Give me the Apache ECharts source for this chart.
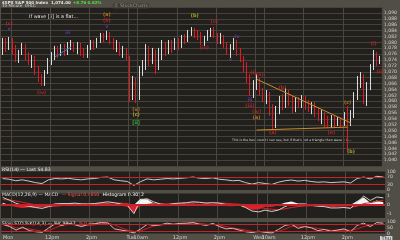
<!DOCTYPE html>
<html><head><meta charset="utf-8">
<script src="https://cdn.jsdelivr.net/npm/echarts@6/dist/echarts.min.js"></script>
<style>html,body{margin:0;padding:0;background:#514e46;}#c{width:400px;height:240px;}</style>
</head><body><div id="c"></div><script>
// ---- categories: 10-minute bars, three sessions ----
const sessionDays = ['Mon','Tue','Wed'];
const barsPerSession = 39;
const categories = [];
sessionDays.forEach(d => { for (let k = 0; k < barsPerSession; k++) { const m = 570 + 10 * k; categories.push(d + ' ' + Math.floor(m / 60) + ':' + String(m % 60).padStart(2, '0')); } });
const xLabelIdx  = [0, 15, 27, 39, 42, 54, 66, 78, 81, 93, 105];
const xLabelText = ['Mon','12pm','2pm','Tue','10am','12pm','2pm','Wed','10am','12pm','2pm'];
const vLineIdx   = [3, 15, 27, 39, 42, 54, 66, 78, 81, 93, 105];

// ---- price (OHLC) ----
const open = [1077.4,1080.1,1078.1,1080.8,1077.4,1074.7,1076.7,1079.1,1075.7,1073.3,1074.7,1070.6,1067.9,1065.8,1069.9,1073.3,1075.4,1077.4,1076.0,1078.4,1076.7,1078.8,1079.4,1077.4,1079.1,1076.7,1075.7,1078.1,1079.4,1078.8,1080.8,1082.2,1081.5,1083.2,1080.8,1078.8,1079.4,1076.7,1077.4,
1074.7,1061.1,1067.2,1061.1,1069.9,1072.0,1077.4,1074.7,1076.0,1072.0,1076.7,1078.8,1077.4,1079.4,1078.1,1080.1,1078.8,1081.5,1080.8,1082.8,1084.2,1082.8,1082.2,1080.1,1081.5,1082.8,1083.9,1082.2,1080.8,1082.2,1079.4,1077.4,1078.8,1080.1,1076.7,1074.7,1072.0,1067.9,1063.8,
1065.8,1067.2,1063.1,1061.1,1062.4,1057.0,1052.2,1057.0,1060.4,1058.4,1063.1,1060.4,1057.7,1060.4,1059.0,1061.1,1059.0,1057.7,1059.0,1056.3,1055.0,1055.6,1053.6,1052.9,1054.3,1052.2,1053.6,1052.9,1055.0,1052.9,1055.6,1061.8,1067.2,1068.6,1061.8,1065.2,1071.3,1075.4,1073.3];
const close = [1080.1,1078.1,1080.8,1077.4,1074.7,1076.7,1079.1,1075.7,1073.3,1074.7,1070.6,1067.9,1065.8,1069.9,1073.3,1075.4,1077.4,1076.0,1078.4,1076.7,1078.8,1079.4,1077.4,1079.1,1076.7,1075.7,1078.1,1079.4,1078.8,1080.8,1082.2,1081.5,1083.2,1080.8,1078.8,1079.4,1076.7,1077.4,1075.4,
1061.1,1067.2,1061.1,1069.9,1072.0,1077.4,1074.7,1076.0,1072.0,1076.7,1078.8,1077.4,1079.4,1078.1,1080.1,1078.8,1081.5,1080.8,1082.8,1084.2,1082.8,1082.2,1080.1,1081.5,1082.8,1083.9,1082.2,1080.8,1082.2,1079.4,1077.4,1078.8,1080.1,1076.7,1074.7,1072.0,1067.9,1063.8,1065.8,
1067.2,1063.1,1061.1,1062.4,1057.0,1052.2,1057.0,1060.4,1058.4,1063.1,1060.4,1057.7,1060.4,1059.0,1061.1,1059.0,1057.7,1059.0,1056.3,1055.0,1055.6,1053.6,1052.9,1054.3,1052.2,1053.6,1052.9,1055.0,1052.9,1055.6,1061.8,1067.2,1068.6,1061.8,1065.2,1071.3,1075.4,1073.3,1074.0];
const high = [1081.5,1081.5,1081.8,1081.5,1079.1,1077.4,1079.8,1079.4,1076.7,1075.7,1075.4,1072.0,1069.2,1070.6,1074.7,1076.7,1078.8,1078.8,1079.4,1079.4,1080.1,1080.8,1080.1,1080.1,1079.8,1078.1,1079.1,1080.8,1080.8,1081.5,1083.2,1083.2,1083.9,1083.5,1081.5,1080.8,1080.1,1078.8,1078.1,
1075.4,1068.6,1067.9,1072.0,1074.0,1079.4,1078.8,1078.1,1077.4,1078.1,1080.8,1080.1,1080.8,1080.8,1081.5,1081.5,1082.5,1082.8,1084.2,1085.2,1084.9,1084.2,1083.5,1082.2,1084.2,1084.9,1085.2,1083.2,1083.2,1082.5,1080.1,1079.4,1081.5,1080.8,1078.1,1075.4,1073.3,1069.2,1067.2,
1069.2,1067.9,1064.5,1063.8,1063.1,1059.0,1058.4,1061.8,1062.4,1064.5,1063.8,1061.8,1061.4,1061.4,1062.1,1061.8,1060.4,1059.7,1059.7,1057.7,1057.0,1056.3,1055.0,1055.3,1055.0,1054.6,1054.6,1056.3,1058.4,1057.0,1063.1,1068.6,1069.9,1069.2,1066.5,1072.6,1077.4,1076.7,1075.4];
const low = [1075.7,1076.7,1077.4,1075.7,1073.3,1073.0,1075.7,1074.0,1072.3,1071.3,1068.9,1066.5,1065.2,1065.2,1069.2,1072.3,1074.0,1074.7,1075.4,1075.4,1075.7,1077.4,1076.7,1076.0,1075.4,1074.7,1074.7,1077.4,1077.4,1078.1,1079.8,1080.1,1080.8,1079.4,1077.4,1076.7,1075.4,1074.7,1074.0,
1059.7,1060.4,1059.4,1060.4,1068.6,1070.6,1072.0,1072.6,1069.2,1070.6,1074.0,1075.4,1076.0,1076.4,1077.4,1077.4,1078.1,1079.4,1080.1,1082.2,1081.5,1080.8,1079.1,1078.8,1080.5,1081.8,1081.5,1079.4,1079.4,1078.1,1075.7,1074.7,1077.4,1075.4,1073.3,1069.9,1066.2,1061.8,1061.1,
1063.8,1061.8,1059.7,1059.0,1055.0,1050.2,1050.9,1055.6,1057.0,1057.7,1058.4,1056.0,1056.3,1057.7,1057.7,1057.0,1056.3,1055.6,1054.6,1053.3,1052.2,1051.2,1051.2,1050.9,1050.9,1051.6,1051.2,1051.6,1043.4,1051.6,1054.3,1060.4,1064.5,1059.0,1058.4,1063.8,1070.6,1072.0,1072.6];

// ---- trendlines (start/end bar index and price) ----
const trendUpperIdx = [78, 107], trendUpperPrice = [1067.5, 1052.6];
const trendLowerIdx = [78, 106], trendLowerPrice = [1050.2, 1051.2];
const trendLeftIdx  = [16, 21],  trendLeftPrice  = [1075.0, 1078.4];

// ---- wave labels ----
const waveIdx   = [2, 2, 12, 20, 32, 32, 32, 41, 41, 41, 59, 62, 65, 70, 72, 77, 79, 76, 76, 78, 78, 86, 83, 101, 106, 107, 114, 116];
const wavePrice = [1086.2,1084.5,1062.8,1083.2,1089.3,1087.3,1085.2,1057.0,1055.3,1052.6,1089.0,1078.1,1086.9,1074.0,1081.8,1069.6,1068.9,1060.4,1058.4,1056.3,1054.3,1064.5,1049.2,1049.2,1059.4,1042.7,1079.4,1069.9];
const waveText  = ['(c)','v','(iv)','iii','(a)','(5)','v','(v)','(c)','[ii]','(b)','(iv)','(v)','v','iv','(i)','(ii)','iii','(iii)','(iv)','(a)','(b)','(a)','(e)','(c)','(b)','(i)','(ii)'];
const waveKind  = ['r','p','r','p','o','r','p','o','y','g','y','r','r','p','p','r','r','p','r','r','o','r','r','r','o','y','r','r'];

// ---- indicators, one reading every second bar ----
const rsi = [62,58,50,55,48,40,35,55,62,60,63,58,55,60,62,68,70,55,50,46,25,45,60,55,58,62,60,63,66,70,64,62,66,58,55,50,52,40,32,40,35,30,42,50,54,48,52,46,42,44,40,42,44,38,62,70,60,74,70];
const macd = [0.85,0.55,0.2,-0.05,-0.15,-0.3,-0.4,-0.2,0.0,0.1,0.15,0.2,0.12,0.1,0.15,0.25,0.35,0.25,0.1,-0.05,-1.0,0.6,0.7,0.35,0.1,0.0,0.15,0.2,0.25,0.35,0.3,0.2,0.25,0.2,0.05,-0.05,0.0,-0.3,-0.7,-0.8,-0.6,-0.75,-0.6,-0.2,0.1,-0.05,0.05,-0.05,-0.15,-0.2,-0.35,-0.35,-0.3,-0.4,0.3,1.0,0.5,0.9,0.8];
const signal = [0.6,0.58,0.45,0.3,0.15,0.0,-0.15,-0.2,-0.15,-0.08,0.0,0.08,0.1,0.1,0.12,0.15,0.2,0.22,0.2,0.15,-0.1,-0.1,0.05,0.15,0.15,0.12,0.12,0.14,0.17,0.22,0.25,0.24,0.24,0.23,0.18,0.12,0.08,0.0,-0.15,-0.3,-0.4,-0.5,-0.55,-0.45,-0.3,-0.2,-0.12,-0.1,-0.1,-0.12,-0.18,-0.22,-0.25,-0.3,-0.15,0.15,0.25,0.4,0.5];
const hist = [0.25,-0.03,-0.25,-0.35,-0.3,-0.3,-0.25,0.0,0.15,0.18,0.15,0.12,0.02,0.0,0.03,0.1,0.15,0.03,-0.1,-0.2,-0.9,0.7,0.65,0.2,-0.05,-0.12,0.03,0.06,0.08,0.13,0.05,-0.04,0.01,-0.03,-0.13,-0.17,-0.08,-0.3,-0.55,-0.5,-0.2,-0.25,-0.05,0.25,0.4,0.15,0.17,0.05,-0.05,-0.08,-0.17,-0.13,-0.05,-0.1,0.45,0.85,0.25,0.5,0.3];
const stochK = [80,60,30,55,25,15,10,50,85,70,90,75,60,80,85,95,92,40,30,20,5,40,80,70,75,90,80,88,90,95,80,70,88,60,40,45,30,15,8,20,10,5,35,70,80,45,60,50,25,35,20,30,40,15,70,90,60,95,90];
const stochD = [75,68,50,45,40,30,18,28,50,70,80,80,72,70,75,85,90,75,50,30,18,22,45,65,75,78,82,85,86,90,88,80,78,72,60,48,40,30,18,14,12,12,18,38,62,65,62,52,45,36,28,28,30,28,40,60,75,80,85];
const rsiLevels = [30, 70];
const stochLevels = [20, 80];

// ---- header / annotation text ----
const titleText = '$SPX S&P 500 Index';
const lastText = '1,074.00';
const changeText = '+8.76 0.82%';
const subText = '10-Minute  OHLC';
const noteText = 'If wave [ii] is a flat...';
const bottomNote = "This is the best count I can see, but if that's not a triangle then wave c is...";

// ---- build ----
const indIdx = rsi.map((_, k) => 2 * k);
const pair = (arr) => arr.map((v, k) => [indIdx[k], v]);
const kindColor = { r: '#d8262c', p: '#6f3fc0', o: '#d98a22', y: '#c9c42a', g: '#33d43a' };
const vSet = new Set(vLineIdx);
const labMap = {}; xLabelIdx.forEach((i, k) => labMap[i] = xLabelText[k]);
const grids = [
  { left: 1, right: 15, top: 7, height: 159 },
  { left: 1, right: 15, top: 171.5, height: 18.5 },
  { left: 1, right: 15, top: 193.5, height: 24.5 },
  { left: 1, right: 15, top: 222, height: 13.5 }
].map(g => Object.assign(g, { show: true, backgroundColor: '#22201d', borderWidth: 0 }));
const splitX = { show: true, interval: (i) => vSet.has(i), lineStyle: { color: '#4a4740', width: 1 } };
const xAxes = grids.map((g, gi) => ({
  type: 'category', gridIndex: gi, data: categories, boundaryGap: true,
  axisLine: { show: false }, axisTick: { show: false }, splitLine: splitX,
  axisLabel: gi === 3 ? { show: true, interval: (i) => labMap[i] !== undefined, formatter: (v, i) => labMap[i] || '', fontSize: 5, color: '#d0d0d0', margin: 1.5, fontFamily: 'DejaVu Sans', alignMinLabel: 'left' } : { show: false }
}));
const lblStyle = { fontSize: 4.6, color: '#cfcfcf', margin: 2, fontFamily: 'DejaVu Sans' };
const yAxes = [
  { type: 'value', gridIndex: 0, position: 'right', min: 1038, max: 1092, interval: 2,
    axisLine: { show: false }, axisTick: { show: false },
    axisLabel: Object.assign({ showMinLabel: false, showMaxLabel: false, formatter: v => '1,' + String(v - 1000).padStart(3, '0') }, lblStyle),
    splitLine: { show: true, lineStyle: { color: '#45423b', width: 1 } } },
  { type: 'value', gridIndex: 1, position: 'right', min: 0, max: 100, interval: 10,
    axisLine: { show: false }, axisTick: { show: false },
    axisLabel: Object.assign({ formatter: v => (v === 0 || v === 30 || v === 70 || v === 100) ? String(v) : '' }, lblStyle),
    splitLine: { show: false } },
  { type: 'value', gridIndex: 2, position: 'right', min: -1.5, max: 1.3, interval: 0.5,
    axisLine: { show: false }, axisTick: { show: false },
    axisLabel: Object.assign({ formatter: v => (Math.abs(v - Math.round(v)) < 1e-6) ? String(Math.round(v)) : '' }, lblStyle),
    splitLine: { show: false } },
  { type: 'value', gridIndex: 3, position: 'right', min: 0, max: 100, interval: 10,
    axisLine: { show: false }, axisTick: { show: false },
    axisLabel: Object.assign({ formatter: v => (v === 0 || v === 50 || v === 100) ? String(v) : '' }, lblStyle),
    splitLine: { show: false } }
];
const ohlc = open.map((o, i) => [o, close[i], low[i], high[i]]);
const trend = (idx, pr, color) => ({ type: 'line', xAxisIndex: 0, yAxisIndex: 0, data: idx.map((i, k) => [i, pr[k]]), symbol: 'none', lineStyle: { color, width: 1 }, silent: true, z: 3 });
const levelLine = (vals, w) => ({ symbol: ['none', 'none'], silent: true, label: { show: false }, lineStyle: { color: '#c4232b', width: w || 1, type: 'solid' }, data: vals.map(v => ({ yAxis: v })) });
const histArea = (sign, color) => ({ type: 'line', xAxisIndex: 2, yAxisIndex: 2, data: pair(hist.map(h => sign > 0 ? Math.max(h, 0) : Math.min(h, 0))), symbol: 'none', lineStyle: { width: 0 }, areaStyle: { color, opacity: 1, origin: 0 }, silent: true, z: 2 });

const series = [
  { type: 'candlestick', xAxisIndex: 0, yAxisIndex: 0, data: ohlc, barWidth: 1.3,
    itemStyle: { color: '#dcdcdc', color0: '#e01b22', borderColor: '#dcdcdc', borderColor0: '#e01b22', borderWidth: 1 } },
  trend(trendUpperIdx, trendUpperPrice, '#c98a2c'),
  trend(trendLowerIdx, trendLowerPrice, '#c98a2c'),
  trend(trendLeftIdx, trendLeftPrice, '#2f7fd0'),
  { type: 'scatter', xAxisIndex: 0, yAxisIndex: 0, symbolSize: 0, silent: true, z: 5,
    data: waveIdx.map((i, k) => ({ value: [i, wavePrice[k]], label: { formatter: waveText[k], color: kindColor[waveKind[k]] } })),
    label: { show: true, position: 'inside', fontSize: 4.8, fontWeight: 'bold', fontFamily: 'DejaVu Sans' } },
  { type: 'line', xAxisIndex: 1, yAxisIndex: 1, data: pair(rsi), symbol: 'none', lineStyle: { color: '#c8c8c8', width: 1 }, markLine: levelLine(rsiLevels), z: 3 },
  histArea(1, '#f4f4f4'),
  histArea(-1, '#e0202a'),
  { type: 'line', xAxisIndex: 2, yAxisIndex: 2, data: pair(signal), symbol: 'none', lineStyle: { color: '#d8262c', width: 1 }, markLine: levelLine([0], 2), z: 3 },
  { type: 'line', xAxisIndex: 2, yAxisIndex: 2, data: pair(macd), symbol: 'none', lineStyle: { color: '#d0d0d0', width: 1 }, z: 4 },
  { type: 'line', xAxisIndex: 3, yAxisIndex: 3, data: pair(stochD), symbol: 'none', lineStyle: { color: '#c82028', width: 1 }, markLine: levelLine(stochLevels), z: 3 },
  { type: 'line', xAxisIndex: 3, yAxisIndex: 3, data: pair(stochK), symbol: 'none', lineStyle: { color: '#d9b4b4', width: 1 }, z: 4 }
];
const small = { fontSize: 4.6, fill: '#e6e6e6', fontFamily: 'DejaVu Sans' };
const graphic = [
  { type: 'text', left: 2, top: 0.5, style: Object.assign({}, small, { text: titleText, fontSize: 4, fontWeight: 'bold' }) },
  { type: 'text', left: 51, top: 0.5, style: Object.assign({}, small, { text: lastText, fontSize: 4, fontWeight: 'bold' }) },
  { type: 'text', left: 73, top: 0.5, style: Object.assign({}, small, { text: changeText, fontSize: 4, fill: '#52e03a', fontWeight: 'bold' }) },
  { type: 'text', left: 2, top: 4, style: Object.assign({}, small, { text: subText, fontSize: 4, fill: '#d0d0d0' }) },
  { type: 'text', left: 113, top: 3.5, style: Object.assign({}, small, { text: '© StockCharts', fill: '#9a978e', backgroundColor: '#3d3a34', padding: [0, 1] }) },
  { type: 'text', left: 29, top: 14.5, style: { text: noteText, fontSize: 4.8, fill: '#e8e8e8', fontFamily: 'DejaVu Sans' } },
  { type: 'text', left: 232, top: 139, style: { text: bottomNote, fontSize: 3.2, fill: '#d8d8d8', fontFamily: 'DejaVu Sans' } },
  { type: 'text', left: 2, top: 166.8, style: Object.assign({}, small, { text: 'RSI(14) \u2014 Last 54.83' }) },
  { type: 'text', left: 2, top: 189.2, style: { text: '{a|MACD(12,26,9) \u2014 MACD} {b|\u2014 Signal 0.4650} {c|Histogram 0.3012}', rich: { a: small, b: Object.assign({}, small, { fill: '#ff5050' }), c: Object.assign({}, small, { fill: '#ffffff' }) } } },
  { type: 'text', left: 2, top: 217.8, style: { text: '{a|Slow STO %K(14,3) \u2014 %K 90.12} {b|%D 85.40}', rich: { a: small, b: Object.assign({}, small, { fill: '#ff5050' }) } } },
  { type: 'text', left: 380, top: 236, style: { text: 'Thu', fontSize: 5, fill: '#222', backgroundColor: '#cfcfcf', padding: [0, 1.5], fontFamily: 'DejaVu Sans' } }
];
const chart = echarts.init(document.getElementById('c'), null, { renderer: 'canvas' });
chart.setOption({ backgroundColor: '#514e46', animation: false, grid: grids, xAxis: xAxes, yAxis: yAxes, series, graphic });
</script></body></html>
